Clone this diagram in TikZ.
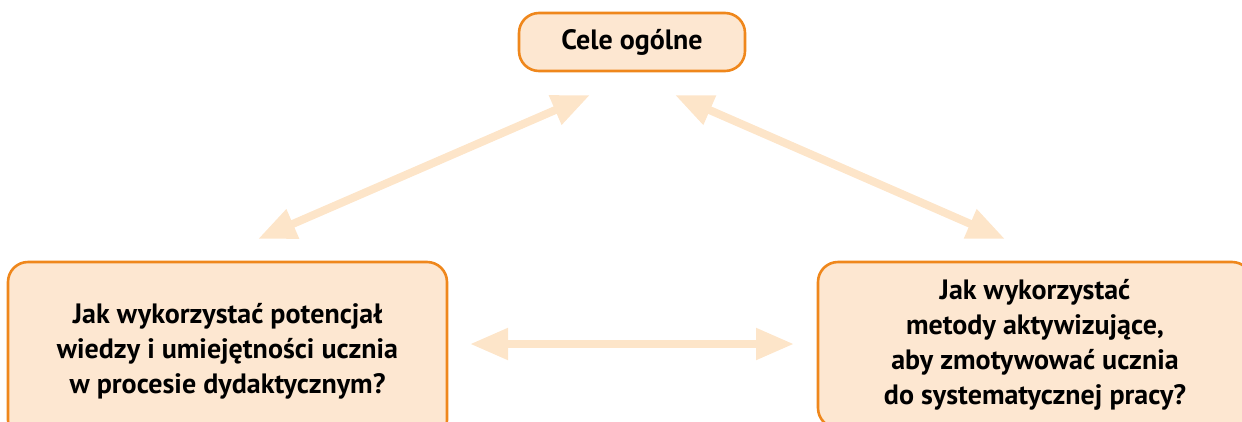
\documentclass[tikz,border=0pt]{standalone}
\usepackage{fontspec}
\setmainfont{PT Sans}
\usepackage{tikz}
\usetikzlibrary{arrows.meta,positioning,calc}
\usepackage{xcolor}
\definecolor{boxfill}{HTML}{FDE7D1}
\definecolor{boxline}{HTML}{EF871C}
\definecolor{arrowcol}{HTML}{FDE5C9}
\tikzset{
  goalbox/.style = {draw=boxline, fill=boxfill, line width=2.6pt,
                    rounded corners=20pt, align=center,
                    font=\fontsize{28}{35}\selectfont\bfseries},
  both/.style    = {{Triangle[length=38pt,width=30pt]}-{Triangle[length=38pt,width=30pt]},
                    line width=8pt, draw=arrowcol, fill=arrowcol},
}

\begin{document}
\begin{tikzpicture}[x=1pt,y=-1pt]
\path[use as bounding box,clip] (0,0) rectangle (1242,421);
% ---------- boxes ----------
\node[goalbox, minimum width=226pt, minimum height=58pt] (goal) at (632,42) {Cele ogólne};
\node[goalbox, minimum width=439pt, minimum height=178pt] (know) at (227.5,351)
  {Jak wykorzystać potencjał\\wiedzy i umiejętności ucznia\\w procesie dydaktycznym?};
\node[goalbox, minimum width=434pt, minimum height=166pt] (meth) at (1035,345)
  {Jak wykorzystać\\metody aktywizujące,\\aby zmotywować ucznia\\do systematycznej pracy?};
% ---------- arrow ends ----------
\coordinate (goalL) at (590,95);
\coordinate (goalR) at (675,95);
\coordinate (knowT) at (258,239);
\coordinate (methT) at (1005,239);
\coordinate (knowR) at (470,344);
\coordinate (methL) at (794,344);
% ---------- arrows ----------
\draw[both] (knowT) -- (goalL);
\draw[both] (goalR) -- (methT);
\draw[both] (knowR) -- (methL);
\end{tikzpicture}
\end{document}
